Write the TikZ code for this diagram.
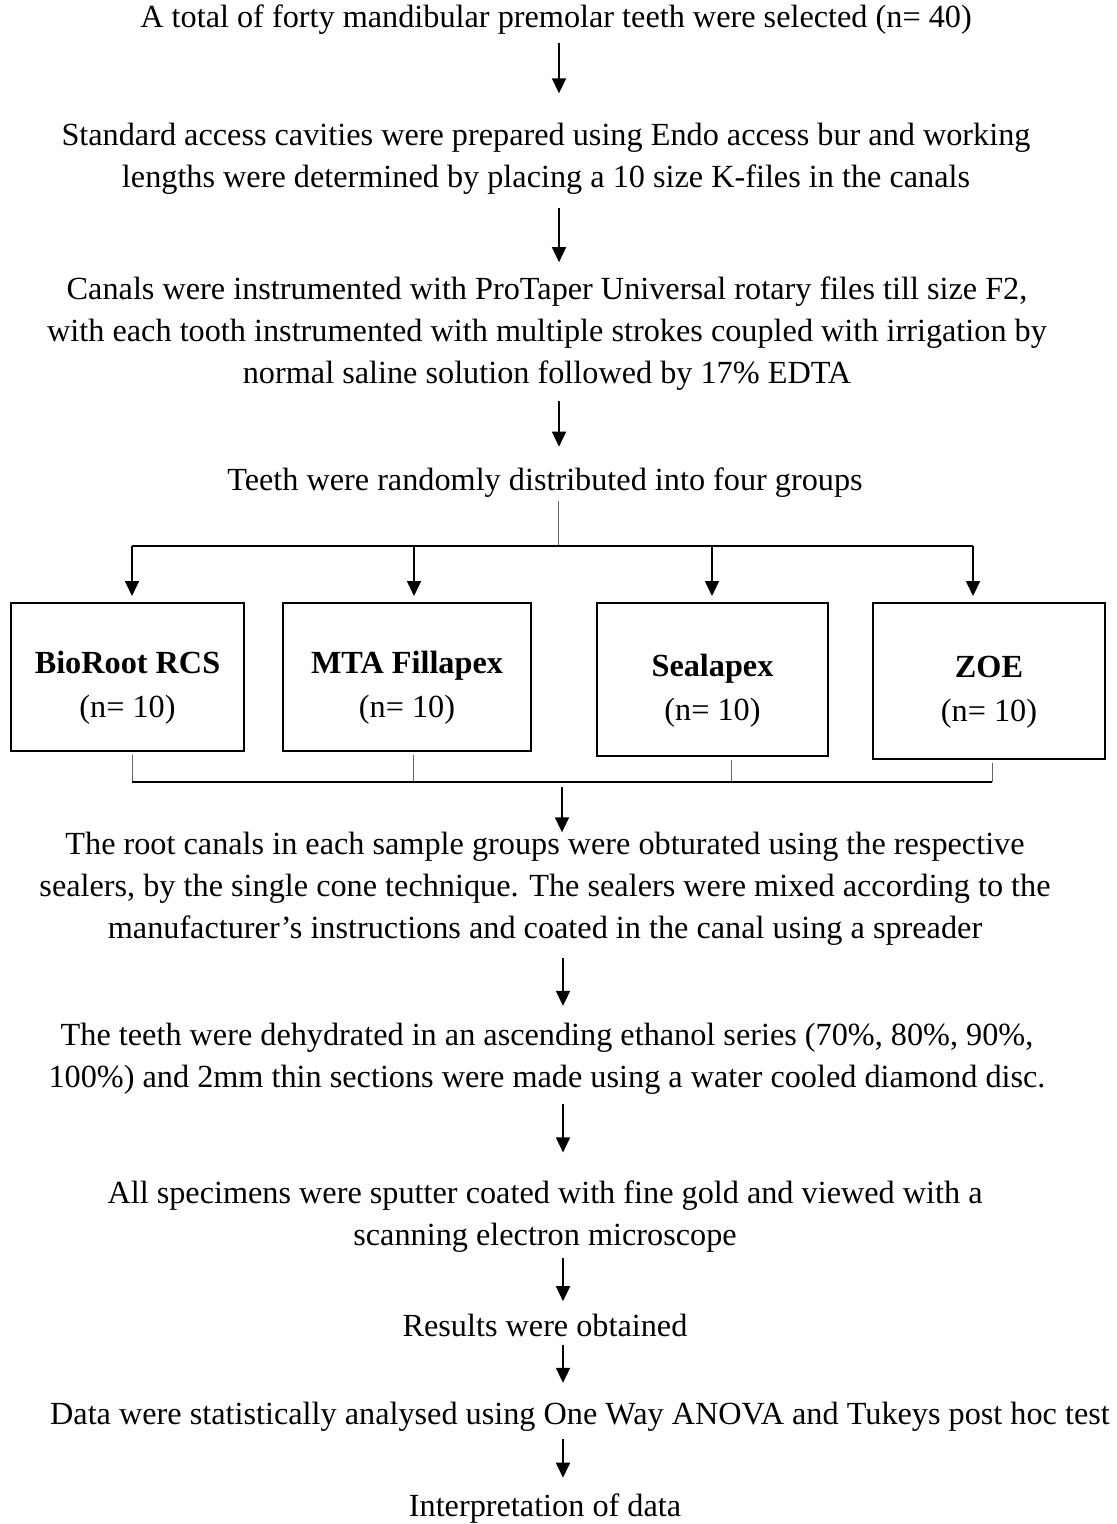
\documentclass[tikz,border=0pt]{standalone}
\usepackage{fontspec}
\setmainfont{Liberation Serif}
\usetikzlibrary{arrows.meta, positioning}

\newcommand{\boxlift}{\rule{0pt}{17.6pt}}

\begin{document}
\begin{tikzpicture}[
  x=0.4pt, y=-0.4pt,
  stage/.style={align=center, inner sep=0pt, outer sep=0pt, font=\fontsize{12.9}{16.8}\selectfont},
  sealer/.style={rectangle, draw, line width=0.8pt, inner sep=0pt, align=center, font=\fontsize{12.9}{17.6}\selectfont},
  arr/.style={-{Triangle[length=6pt, width=5.6pt]}, line width=0.7pt},
  bus/.style={line width=0.8pt},
  link/.style={draw=black!60, line width=0.4pt},
]
\useasboundingbox (0,0) rectangle (1116,1524);

% Preparation steps
\node[stage] (total) at (556,20) {A total of forty mandibular premolar teeth were selected (n= 40)};
\node[stage] (access) at (546,158.5) {Standard access cavities were prepared using Endo access bur and working\\lengths were determined by placing a 10 size K-files in the canals};
\node[stage] (canals) at (547,333.5) {Canals were instrumented with ProTaper Universal rotary files till size F2,\\with each tooth instrumented with multiple strokes coupled with irrigation by\\normal saline solution followed by 17\% EDTA};
\node[stage] (groups) at (545,483) {Teeth were randomly distributed into four groups};

% Sealer groups
\node[sealer, minimum width=93.2pt, minimum height=59.2pt] (bioroot) at (127.5,677) {\boxlift\textbf{BioRoot RCS}\\(n= 10)};
\node[sealer, minimum width=99.2pt, minimum height=59.2pt] (mta) at (407,677) {\boxlift\textbf{MTA Fillapex}\\(n= 10)};
\node[sealer, minimum width=92.4pt, minimum height=61.2pt] (sealapex) at (712.5,679.5) {\boxlift\textbf{Sealapex}\\(n= 10)};
\node[sealer, minimum width=92.8pt, minimum height=62.4pt] (zoe) at (989,681) {\boxlift\textbf{ZOE}\\(n= 10)};

% Later steps
\node[stage] (obtur) at (545,889) {The root canals in each sample groups were obturated using the respective\\sealers, by the single cone technique. The sealers were mixed according to the\\manufacturer’s instructions and coated in the canal using a spreader};
\node[stage] (dehyd) at (547,1059) {The teeth were dehydrated in an ascending ethanol series (70\%, 80\%, 90\%,\\100\%) and 2mm thin sections were made using a water cooled diamond disc.};
\node[stage] (sem) at (545,1216.75) {All specimens were sputter coated with fine gold and viewed with a\\scanning electron microscope};
\node[stage] (results) at (545,1325) {Results were obtained};
\node[stage] (stats) at (580,1417) {Data were statistically analysed using One Way ANOVA and Tukeys post hoc test};
\node[stage] (interp) at (545,1509) {Interpretation of data};

% Junctions
\coordinate (spineA) at (559,0);
\coordinate (spineB) at (563,0);
\coordinate (fork) at (558,546);
\coordinate (t1) at (132,546);
\coordinate (t2) at (414,546);
\coordinate (t3) at (712,546);
\coordinate (t4) at (973,546);
\coordinate (m1) at (132,782);
\coordinate (m2) at (413,782);
\coordinate (m3) at (731,782);
\coordinate (m4) at (992,782);
\coordinate (merge) at (562,782);

% Arrows
\draw[arr, shorten <=3.2pt, shorten >=11.8pt] (total.south -| spineA) -- (access.north -| spineA);
\draw[arr, shorten <=5.6pt, shorten >=5.8pt] (access.south -| spineA) -- (canals.north -| spineA);
\draw[arr, shorten <=4.4pt, shorten >=8.6pt] (canals.south -| spineA) -- (groups.north -| spineA);
\draw[link, shorten <=1.2pt] (groups.south -| fork) -- (fork);
\draw[bus] (t1) -- (t4);
\foreach \g/\t in {bioroot/t1, mta/t2, sealapex/t3, zoe/t4}
  \draw[arr, shorten >=2.4pt] (\t) -- (\t |- \g.north);
\foreach \g/\m in {bioroot/m1, mta/m2, sealapex/m3, zoe/m4}
  \draw[link, shorten <=1pt] (\g.south -| \m) -- (\m);
\draw[bus, line width=0.6pt] (m1) -- (m4);
\draw[arr, shorten <=2pt] (merge) -- (merge |- obtur.north);
\draw[arr, shorten <=4.8pt, shorten >=7pt] (obtur.south -| spineB) -- (dehyd.north -| spineB);
\draw[arr, shorten <=3.6pt, shorten >=11.4pt] (dehyd.south -| spineB) -- (sem.north -| spineB);
\draw[arr, shorten <=2pt, shorten >=5pt] (sem.south -| spineB) -- (results.north -| spineB);
\draw[arr, shorten <=3.6pt, shorten >=7.8pt] (results.south -| spineB) -- (stats.north -| spineB);
\draw[arr, shorten <=2.8pt, shorten >=6.6pt] (stats.south -| spineB) -- (interp.north -| spineB);

\end{tikzpicture}
\end{document}
